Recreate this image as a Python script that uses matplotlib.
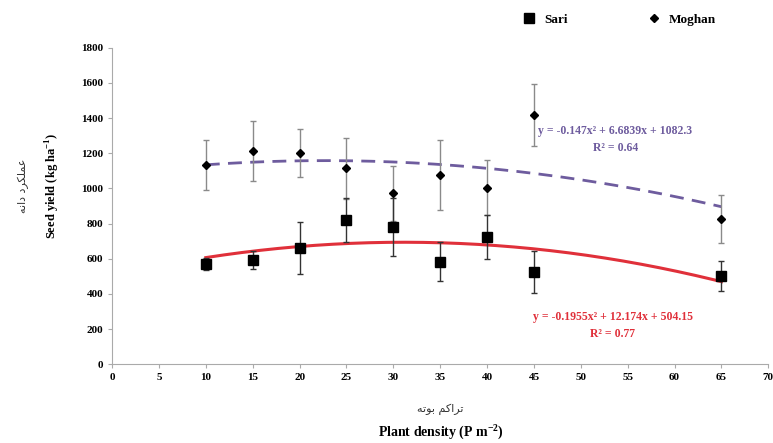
import numpy as np
from matplotlib import pyplot as plt
from matplotlib.lines import Line2D

# plant density (P m-2)
density = [10, 15, 20, 25, 30, 35, 40, 45, 65]

# seed yield (kg ha-1) and standard error bars
sari = [569, 592, 662, 820, 778, 583, 721, 526, 501]
sari_err = [33, 53, 147, 124, 165, 112, 125, 120, 84]
moghan = [1133, 1213, 1203, 1114, 972, 1076, 1004, 1418, 824]
moghan_err = [142, 171, 138, 173, 155, 200, 158, 177, 136]

# quadratic trend lines given on the chart
sari_fit = [-0.1955, 12.174, 504.15]
moghan_fit = [-0.147, 6.6839, 1082.3]

# Persian labels, written in presentation forms in visual order
# (matplotlib does no Arabic shaping)
fa_ylabel = "\uFEEA\uFEE7\uFE8D\uFEA9 \uFEA9\uFEAE\uFB91\uFEE0\uFEE4\uFECB"   # عملکرد دانه
fa_xlabel = "\uFEEA\uFE97\uFEEE\uFE91 \uFEE2\uFB90\uFE8D\uFEAE\uFE97"         # تراکم بوته

red = "#e0303a"
purple = "#6e5c9e"
serif = "Liberation Serif"

plt.rcParams["mathtext.fontset"] = "custom"
plt.rcParams["mathtext.rm"] = "Liberation Serif:bold"

fig = plt.figure(figsize=(7.73, 4.43), dpi=100)
ax = fig.add_axes([0.145, 0.178, 0.849, 0.714])

xs = np.linspace(10, 65, 200)
ax.plot(xs, np.polyval(moghan_fit, xs), color=purple, lw=2, ls=(0, (5, 3)), zorder=2)
ax.plot(xs, np.polyval(sari_fit, xs), color=red, lw=2.2, zorder=2)

ax.errorbar(density, moghan, yerr=moghan_err, fmt="D", color="black", ms=4,
            ecolor="#8a8a8a", elinewidth=1, capsize=2, zorder=3)
ax.errorbar(density, sari, yerr=sari_err, fmt="s", color="black", ms=7,
            ecolor="#333333", elinewidth=1, capsize=2, zorder=3)

ax.set_xlim(0, 70)
ax.set_ylim(0, 1800)
ax.set_xticks(range(0, 71, 5))
ax.set_yticks(range(0, 1801, 200))
for s in ["top", "right"]:
    ax.spines[s].set_visible(False)
for s in ["left", "bottom"]:
    ax.spines[s].set_color("#aaaaaa")
ax.tick_params(colors="#aaaaaa", length=3, labelcolor="black", labelsize=8)
for lab in ax.get_xticklabels() + ax.get_yticklabels():
    lab.set_fontfamily(serif)
    lab.set_fontweight("bold")

eq = dict(ha="center", va="center", fontsize=8.5, fontweight="bold", family=serif)
ax.text(53.7, 1327, "y = -0.147x\u00b2 + 6.6839x + 1082.3", color=purple, **eq)
ax.text(53.7, 1232, "R\u00b2 = 0.64", color=purple, **eq)
ax.text(53.4, 268, "y = -0.1955x\u00b2 + 12.174x + 504.15", color=red, **eq)
ax.text(53.4, 173, "R\u00b2 = 0.77", color=red, **eq)

fig.text(0.068, 0.58, "Seed yield (kg ha$^{-1}$)", rotation=90, ha="center", va="center",
         fontsize=9, fontweight="bold", family=serif)
fig.text(0.03, 0.58, fa_ylabel, rotation=90, ha="center", va="center",
         fontsize=8, family="DejaVu Sans", color="#333333")
fig.text(0.57, 0.075, fa_xlabel, ha="center", va="center",
         fontsize=8, family="DejaVu Sans", color="#333333")
fig.text(0.57, 0.025, "Plant density (P m$^{-2}$)", ha="center", va="center",
         fontsize=10, fontweight="bold", family=serif)

handles = [Line2D([], [], marker="s", color="black", ls="none", ms=7),
           Line2D([], [], marker="D", color="black", ls="none", ms=4)]
fig.legend(handles, ["Sari", "Moghan"], loc="center", bbox_to_anchor=(0.797, 0.955),
           ncol=2, frameon=False, handletextpad=0.1, columnspacing=5.6,
           prop={"family": serif, "weight": "bold", "size": 9.5})

fig.savefig("out.png", dpi=100)
